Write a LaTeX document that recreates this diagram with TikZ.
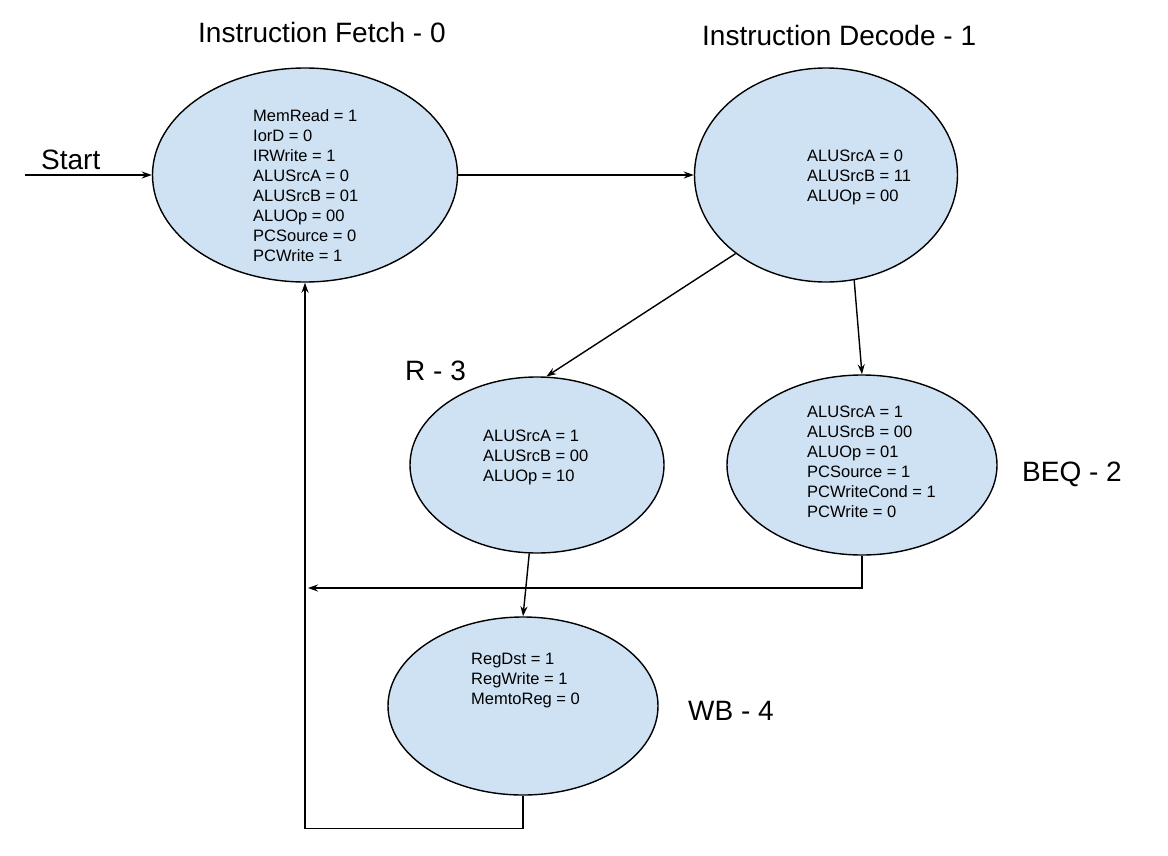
\documentclass[tikz,border=0pt]{standalone}
\usepackage{fontspec}
\setmainfont{Liberation Sans}
\usetikzlibrary{shapes.geometric,arrows.meta}
\definecolor{stfill}{HTML}{CFE2F3}
\begin{document}
\begin{tikzpicture}[x=1pt,y=-1pt,
 state/.style={ellipse,draw=black,line width=1.4pt,fill=stfill,inner sep=0pt},
 wire/.style={line width=1.4pt,-{Stealth[length=10pt,width=7pt]}},
 ctrl/.style={anchor=north west,align=left,inner sep=0pt,font=\fontsize{16.5}{20}\selectfont},
 ttl/.style={anchor=base west,inner sep=0pt,font=\fontsize{28}{32}\selectfont}]
\useasboundingbox (0,0) rectangle (1168,855);
% states
\node[state,minimum width=305pt,minimum height=214pt] (e0) at (305,175) {};
\node[state,minimum width=263pt,minimum height=214pt] (e1) at (826,175) {};
\node[state,minimum width=254pt,minimum height=176pt] (r3) at (537,465) {};
\node[state,minimum width=270pt,minimum height=180pt] (beq) at (862,465) {};
\node[state,minimum width=270pt,minimum height=178pt] (wb) at (523,706) {};
% contents
\node[ctrl] (t0) at (253,109) {MemRead = 1\\IorD = 0\\IRWrite = 1\\ALUSrcA = 0\\ALUSrcB = 01\\ALUOp = 00\\PCSource = 0\\PCWrite = 1};
\node[ctrl] (t1) at (807,150) {ALUSrcA = 0\\ALUSrcB = 11\\ALUOp = 00};
\node[ctrl] (t3) at (483,430) {ALUSrcA = 1\\ALUSrcB = 00\\ALUOp = 10};
\node[ctrl] (t2) at (807,406) {ALUSrcA = 1\\ALUSrcB = 00\\ALUOp = 01\\PCSource = 1\\PCWriteCond = 1\\PCWrite = 0};
\node[ctrl] (t4) at (471,653) {RegDst = 1\\RegWrite = 1\\MemtoReg = 0};
% titles
\node[ttl] (l0) at (198,42) {Instruction Fetch - 0};
\node[ttl] (l1) at (702,45) {Instruction Decode - 1};
\node[ttl] (l3) at (405,380) {R - 3};
\node[ttl] (l2) at (1022,481) {BEQ - 2};
\node[ttl] (l4) at (688,720) {WB - 4};
\node[ttl] (ls) at (41,169) {Start};
% connectors
\coordinate (s0) at (25,175);
\coordinate (m1) at (308,588);
\draw[wire] (s0) -- (e0.west);
\draw[wire] (e0.east) -- (e1.west);
\draw[wire] (e1.221) -- (r3.84);
\draw[wire] (e1.-75) -- (beq.north);
\draw[wire] (r3.-95) -- (wb.north);
\draw[wire] (beq.south) |- (m1);
\draw[wire] (wb.south) -- ++(0,33) -| (e0.south);
\end{tikzpicture}
\end{document}
